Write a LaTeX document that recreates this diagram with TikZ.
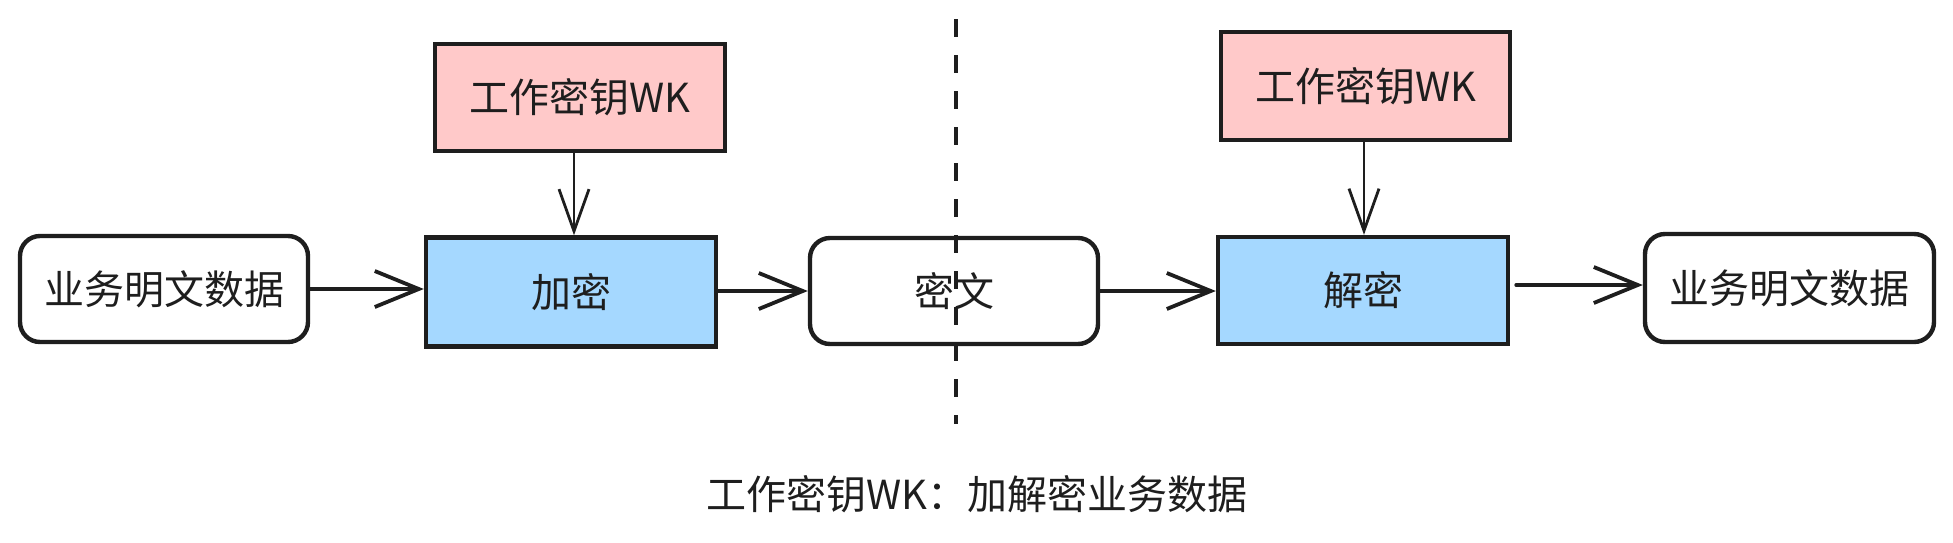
\documentclass[tikz,border=0pt]{standalone}
\usepackage{fontspec}
\setmainfont{Noto Sans CJK SC}
\usetikzlibrary{arrows.meta}
\definecolor{ink}{HTML}{1E1E1E}
\definecolor{pinkfill}{HTML}{FFC9C9}
\definecolor{bluefill}{HTML}{A5D8FF}
\begin{document}
\begin{tikzpicture}[x=0.5pt,y=-0.5pt,
  every node/.style={font=\fontsize{20pt}{24pt}\selectfont, text=ink},
  keybox/.style={draw=ink, line width=2.2pt, fill=pinkfill, inner sep=0pt},
  procbox/.style={draw=ink, line width=2.2pt, fill=bluefill, inner sep=0pt},
  databox/.style={draw=ink, line width=2.2pt, fill=white, rounded corners=10pt, inner sep=0pt},
  arr/.style={draw=ink, line width=1.9pt, line cap=round, -{Straight Barb[length=22pt,width=18pt,line width=1.9pt]}},
  varr/.style={draw=ink, line width=1.4pt, line cap=round, -{Straight Barb[length=21pt,width=15pt,line width=1.4pt]}},
  divider/.style={draw=ink, line width=1.6pt, dash pattern=on 9pt off 9pt}
]
\useasboundingbox (0,0) rectangle (1953,542);
\fill[white] (0,0) rectangle (1953,542);

\node[keybox, minimum width=145pt, minimum height=53.5pt] (wk1) at (580,97.5) {工作密钥WK};
\node[procbox, minimum width=145pt, minimum height=54.5pt] (enc) at (571,292) {加密};
\node[databox, minimum width=144pt, minimum height=53pt] (biz1) at (164,289) {业务明文数据};
\node[databox, minimum width=144pt, minimum height=53pt] (cipher) at (954,291) {密文};
\node[keybox, minimum width=144.5pt, minimum height=54pt] (wk2) at (1365.5,86) {工作密钥WK};
\node[procbox, minimum width=145pt, minimum height=53.5pt] (dec) at (1363,290.5) {解密};
\node[databox, minimum width=144.5pt, minimum height=54pt] (biz2) at (1789.5,288) {业务明文数据};

\coordinate (dtop) at (956,19);
\coordinate (dbot) at (956,424);
\draw[divider] (dtop) -- (dbot);

\node (caption) at (977,494) {工作密钥WK：加解密业务数据};

\draw[arr] (biz1.east) -- (enc.west |- biz1.east);
\draw[arr] (enc.east |- cipher.west) -- (cipher.west);
\draw[arr] (cipher.east) -- (dec.west |- cipher.east);
\draw[arr] ([xshift=3pt]dec.east |- 0,285) -- (biz2.west |- 0,285);
\draw[varr] (wk1.south -| 574,0) -- (enc.north -| 574,0);
\draw[varr] (wk2.south -| 1364,0) -- (dec.north -| 1364,0);
\end{tikzpicture}
\end{document}
